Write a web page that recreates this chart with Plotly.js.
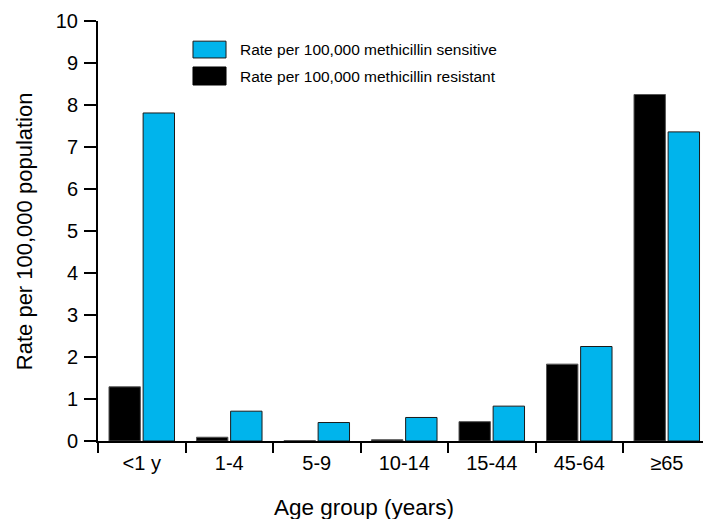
<!DOCTYPE html>
<html>
<head>
<meta charset="utf-8">
<script src="https://cdn.plot.ly/plotly-3.0.1.min.js"></script>
<style>html,body{margin:0;padding:0;background:#fff;}#chart{width:703px;height:519px;}</style>
</head>
<body>
<div id="chart"></div>
<script>
const categories = ["<1 y", "1-4", "5-9", "10-14", "15-44", "45-64", "\u226565"];
const resistant = [1.29, 0.09, 0.01, 0.03, 0.46, 1.83, 8.25];
const sensitive = [7.81, 0.71, 0.44, 0.56, 0.83, 2.25, 7.36];
const seriesNames = ["Rate per 100,000 methicillin sensitive", "Rate per 100,000 methicillin resistant"];
const yTicks = [0, 1, 2, 3, 4, 5, 6, 7, 8, 9, 10];

const FONT = "Liberation Sans, Arial, Helvetica, sans-serif";
const BLUE = "#00B4EC";

const traces = [
  {type: "bar", x: categories, y: resistant, name: seriesNames[1],
   marker: {color: "#000000", line: {color: "#555555", width: 1}}, showlegend: false},
  {type: "bar", x: categories, y: sensitive, name: seriesNames[0],
   marker: {color: BLUE, line: {color: "#1a1a1a", width: 1}}, showlegend: false}
];

const layout = {
  width: 703, height: 519,
  margin: {l: 98, r: 0, t: 21, b: 78},
  paper_bgcolor: "#fff", plot_bgcolor: "#fff",
  barmode: "group", bargap: 0.22, bargroupgap: 0.08,
  font: {family: FONT, color: "#000"},
  xaxis: {
    type: "category", range: [-0.5, 6.414],
    showline: true, linecolor: "#000", linewidth: 2,
    ticks: "outside", tickson: "boundaries", ticklen: 10, tickwidth: 2, tickcolor: "#000",
    ticklabelstandoff: 3,
    tickfont: {size: 20, family: FONT, color: "#000"},
    showgrid: false, zeroline: false, fixedrange: true
  },
  yaxis: {
    range: [0, 10], tickvals: yTicks, ticktext: yTicks.map(String),
    showline: true, linecolor: "#000", linewidth: 2,
    ticks: "outside", ticklen: 12, tickwidth: 2, tickcolor: "#000",
    ticklabelstandoff: 2,
    tickfont: {size: 20, family: FONT, color: "#000"},
    showgrid: false, zeroline: false, fixedrange: true
  },
  shapes: [
    {type: "rect", xref: "paper", yref: "paper", x0: 0.157, x1: 0.2116, y0: 0.912, y1: 0.952,
     fillcolor: BLUE, line: {color: "#1a1a1a", width: 1}},
    {type: "rect", xref: "paper", yref: "paper", x0: 0.157, x1: 0.2116, y0: 0.8476, y1: 0.8905,
     fillcolor: "#000", line: {color: "#000", width: 1}}
  ],
  annotations: [
    {xref: "paper", yref: "paper", x: 0.2314, y: 0.931, xanchor: "left", yanchor: "middle",
     text: seriesNames[0], showarrow: false, font: {size: 15.5, family: FONT, color: "#000"}},
    {xref: "paper", yref: "paper", x: 0.2314, y: 0.869, xanchor: "left", yanchor: "middle",
     text: seriesNames[1], showarrow: false, font: {size: 15.5, family: FONT, color: "#000"}},
    {xref: "paper", yref: "paper", x: 0.44, y: -0.1595, xanchor: "center", yanchor: "middle",
     text: "Age group (years)", showarrow: false, font: {size: 22.5, family: FONT, color: "#000"}},
    {xref: "paper", yref: "paper", x: -0.122, y: 0.5, xanchor: "center", yanchor: "middle",
     textangle: -90, text: "Rate per 100,000 population", showarrow: false,
     font: {size: 22, family: FONT, color: "#000"}}
  ]
};

Plotly.newPlot("chart", traces, layout, {displayModeBar: false, staticPlot: true});
</script>
</body>
</html>
